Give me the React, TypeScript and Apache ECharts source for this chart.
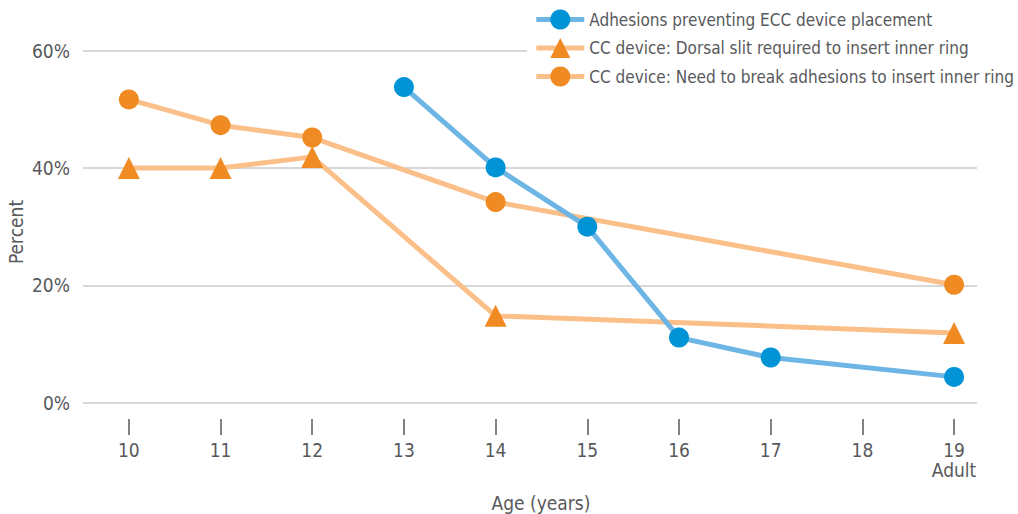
import React, { useEffect, useRef } from "react";
import * as echarts from "echarts";

const ages = [10, 11, 12, 13, 14, 15, 16, 17, 18, 19];
const adhesionsECC = [null, null, null, 53.8, 40.1, 30.0, 11.1, 7.7, null, 4.4];
const dorsalSlit = [40, 40, 41.9, null, 14.8, null, null, null, null, 11.9];
const breakAdhesions = [51.7, 47.3, 45.2, null, 34.2, null, null, null, null, 20.1];
const yTicks = [0, 20, 40, 60];
const seriesNames = [
  "Adhesions preventing ECC device placement",
  "CC device: Dorsal slit required to insert inner ring",
  "CC device: Need to break adhesions to insert inner ring",
];

const FONT = "'Liberation Sans Narrow', 'DejaVu Sans Condensed', sans-serif";
const TEXT = "#58595b";
const BLUE = "#0093d6";
const BLUE_LINE = "#6cb5e5";
const ORANGE = "#f08b24";
const ORANGE_LINE = "#fbc089";

const toData = (vals: (number | null)[]) => ages.map((a, i) => [a, vals[i] === null ? "-" : vals[i]]);

export default function App() {
  const ref = useRef<HTMLDivElement>(null);
  useEffect(() => {
    if (!ref.current) return;
    const chart = echarts.init(ref.current, undefined, { renderer: "svg" });
    const mk = (name: string, vals: (number | null)[], color: string, lineColor: string, symbol: string, size: number) => ({
      name,
      type: "line",
      data: toData(vals),
      connectNulls: true,
      symbol,
      symbolSize: size,
      itemStyle: { color },
      lineStyle: { color: lineColor, width: 5 },
      z: 2,
    });
    chart.setOption({
      animation: false,
      textStyle: { fontFamily: FONT },
      grid: [
        { left: 83, right: 41, top: 50.7, bottom: 111.3, containLabel: false },
        { left: 83, right: 41, top: 419, height: 16, containLabel: false },
      ],
      legend: {
        orient: "vertical",
        right: 0,
        top: 0,
        backgroundColor: "#ffffff",
        padding: [9.5, 4, 4, 7],
        itemWidth: 48,
        itemHeight: 25,
        itemGap: 8.5,
        lineStyle: { width: 5 },
        textStyle: { fontFamily: FONT, fontSize: 17, color: TEXT },
        data: seriesNames,
      },
      xAxis: [
        {
          type: "value",
          min: 9.5,
          max: 19.25,
          offset: 16,
          axisLine: { show: false, onZero: false },
          splitLine: { show: false },
          axisTick: { show: false },
          axisLabel: {
            customValues: ages,
            margin: 21,
            fontSize: 19,
            lineHeight: 20,
            color: TEXT,
            fontFamily: FONT,
            formatter: (v: number) => (v === 19 ? "19\nAdult" : String(v)),
          },
        },
        {
          type: "value",
          gridIndex: 1,
          min: 9.5,
          max: 19.25,
          axisLine: { show: false, onZero: false },
          splitLine: { show: false },
          axisLabel: { show: false },
          axisTick: { show: true, inside: true, customValues: ages, length: 16, lineStyle: { color: TEXT, width: 1.5 } },
        },
      ],
      yAxis: [
        {
          type: "value",
          min: yTicks[0],
          max: yTicks[yTicks.length - 1],
          interval: 20,
          axisLine: { show: false },
          axisTick: { show: false },
          splitLine: { show: true, lineStyle: { color: "#cbcbcb", width: 1.5 } },
          axisLabel: { formatter: "{value}%", fontSize: 19, color: TEXT, margin: 13, fontFamily: FONT },
        },
        { type: "value", gridIndex: 1, show: false, min: 0, max: 1 },
      ],
      graphic: [
        {
          type: "text",
          x: 541,
          y: 503,
          style: { text: "Age (years)", fontSize: 19, fill: TEXT, fontFamily: FONT, align: "center", verticalAlign: "middle" },
        },
        {
          type: "text",
          x: 16,
          y: 232,
          rotation: Math.PI / 2,
          style: { text: "Percent", fontSize: 19, fill: TEXT, fontFamily: FONT, align: "center", verticalAlign: "middle" },
        },
      ],
      series: [
        mk(seriesNames[2], breakAdhesions, ORANGE, ORANGE_LINE, "circle", 20),
        mk(seriesNames[1], dorsalSlit, ORANGE, ORANGE_LINE, "triangle", 22),
        mk(seriesNames[0], adhesionsECC, BLUE, BLUE_LINE, "circle", 20),
      ],
    });
    return () => chart.dispose();
  }, []);
  return <div ref={ref} style={{ width: 1018, height: 514, position: "absolute", left: 0, top: 0 }} />;
}
